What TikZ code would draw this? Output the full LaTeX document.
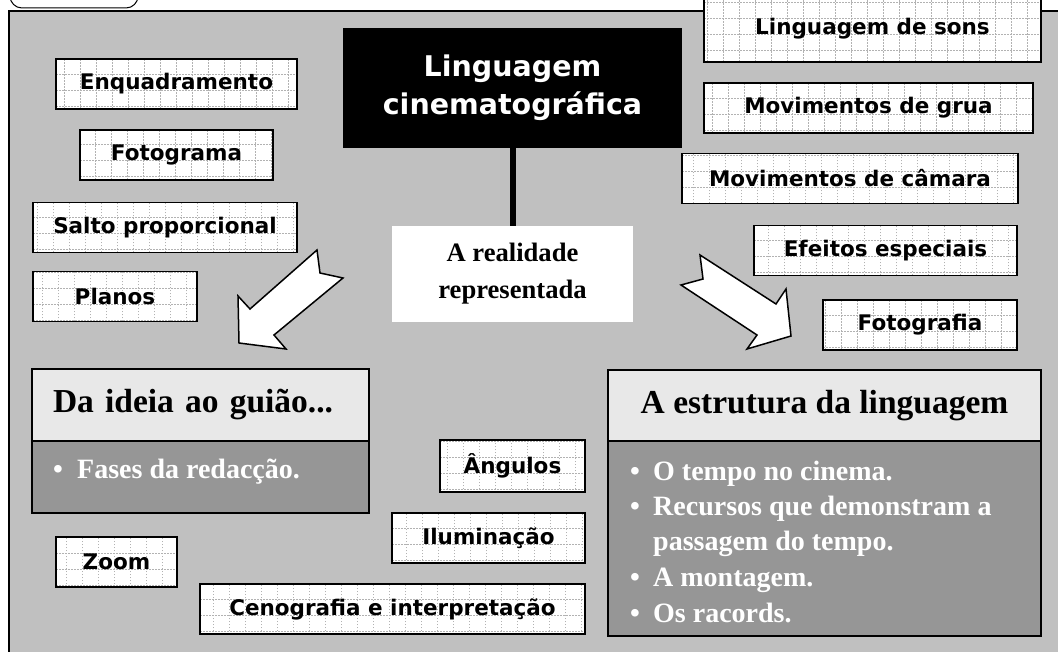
\documentclass[tikz,border=0pt]{standalone}
\usepackage{fontspec}
\setmainfont{Liberation Serif}
\newfontfamily\labelsans{DejaVu Sans}

\definecolor{framegray}{HTML}{C0C0C0}
\definecolor{headgray}{HTML}{E8E8E8}
\definecolor{bodygray}{HTML}{969696}

\tikzset{
  gridbox/.style={draw, line width=1.6pt, fill=white, inner sep=0pt, minimum height=50pt,
    font=\labelsans\bfseries\fontsize{21.5}{24}\selectfont,
    path picture={\draw[gray!60, dash pattern=on 1.5pt off 1.5pt, line width=0.5pt]
      (path picture bounding box.south west) grid[step=16pt] (path picture bounding box.north east);}},
  headbox/.style={draw, line width=1.6pt, fill=headgray, inner sep=0pt,
    font=\bfseries\fontsize{33.5}{38}\selectfont},
  bodybox/.style={draw, line width=1.6pt, fill=bodygray, inner sep=0pt},
  itemtext/.style={anchor=base west, inner sep=0pt, text=white,
    font=\bfseries\fontsize{28}{36}\selectfont},
  bigarrow/.style={draw, line width=1.5pt, fill=white, line join=miter},
}

\begin{document}
\begin{tikzpicture}[x=1pt,y=-1pt]
  \clip (0,0) rectangle (1058,652);
  \useasboundingbox (0,0) rectangle (1058,652);
  % frame and tab
  \draw[line width=1pt, fill=white, rounded corners=12pt] (10,-30) rectangle (138,8);
  \draw[line width=2pt, fill=framegray] (9,11) rectangle (1075,670);

  % centre
  \node (titlebox) [fill=black, text=white, minimum width=339pt, minimum height=120pt, align=center,
    font=\labelsans\bfseries\fontsize{28.5}{38}\selectfont] at (512.5,88) {Linguagem\\cinematográfica};
  \node (realidade) [fill=white, minimum width=241pt, minimum height=96pt, align=center,
    font=\bfseries\fontsize{26.6}{37}\selectfont] at (512.5,274) {A realidade\\representada};
  \draw[line width=6pt] (titlebox.south) -- (realidade.north);

  % left labels
  \node (enquadramento) [gridbox, minimum width=241pt] at (176.5,84) {Enquadramento};
  \node (fotograma) [gridbox, minimum width=193pt] at (176.5,155) {Fotograma};
  \node (salto) [gridbox, minimum width=264pt] at (165,227.5) {Salto proporcional};
  \node (planos) [gridbox, minimum width=164pt] at (115,296.5) {Planos};
  \node (zoom) [gridbox, minimum width=121pt] at (116.5,562) {Zoom};

  % right labels
  \node (sons) [gridbox, minimum width=337pt, minimum height=67pt] at (872.5,28.5) {Linguagem de sons};
  \node (grua) [gridbox, minimum width=329pt] at (868.5,108) {Movimentos de grua};
  \node (camara) [gridbox, minimum width=336pt] at (850,178.5) {Movimentos de câmara};
  \node (efeitos) [gridbox, minimum width=263pt] at (885.5,250.5) {Efeitos especiais};
  \node (fotografia) [gridbox, minimum width=194pt] at (920,325) {Fotografia};

  % bottom labels
  \node (angulos) [gridbox, minimum width=145pt, minimum height=52pt] at (512.5,466) {Ângulos};
  \node (iluminacao) [gridbox, minimum width=193pt] at (488.5,538) {Iluminação};
  \node (cenografia) [gridbox, minimum width=385pt] at (392.5,609) {Cenografia e interpretação};

  % arrows
  \draw[bigarrow] (317,250) -- (250,309) -- (238,296) -- (239,343) -- (286,349)
    -- (274,335) -- (343,278) -- (320,273) -- cycle;
  \draw[bigarrow] (700,255) -- (776,304) -- (786,289) -- (791,336) -- (747,349)
    -- (757,335) -- (681,285) -- (703,279) -- cycle;

  % left panel
  \node (ideiahead) [headbox, minimum width=337pt, minimum height=72pt, text width=295pt,
    inner xsep=21pt, align=left] at (200.5,405) {Da ideia ao guião...};
  \node (ideiabody) [bodybox, minimum width=337pt, minimum height=72pt] at (200.5,477) {};
  \node (ideiab1) [itemtext] at (53,478) {\textbullet};
  \node (ideiat1) [itemtext] at (77,478) {Fases da redacção.};

  % right panel
  \node (estruturahead) [headbox, minimum width=433pt, minimum height=71pt] at (824.5,405.5) {A estrutura da linguagem};
  \node (estruturabody) [bodybox, minimum width=433pt, minimum height=195pt] at (824.5,538.5) {};
  \node (estb1) [itemtext] at (630,480) {\textbullet};
  \node (estt1) [itemtext] at (653,480) {O tempo no cinema.};
  \node (estb2) [itemtext] at (630,515) {\textbullet};
  \node (estt2) [itemtext] at (653,515) {Recursos que demonstram a};
  \node (estt2b) [itemtext] at (653,550) {passagem do tempo.};
  \node (estb3) [itemtext] at (630,586) {\textbullet};
  \node (estt3) [itemtext] at (653,586) {A montagem.};
  \node (estb4) [itemtext] at (630,622) {\textbullet};
  \node (estt4) [itemtext] at (653,622) {Os racords.};
\end{tikzpicture}
\end{document}
